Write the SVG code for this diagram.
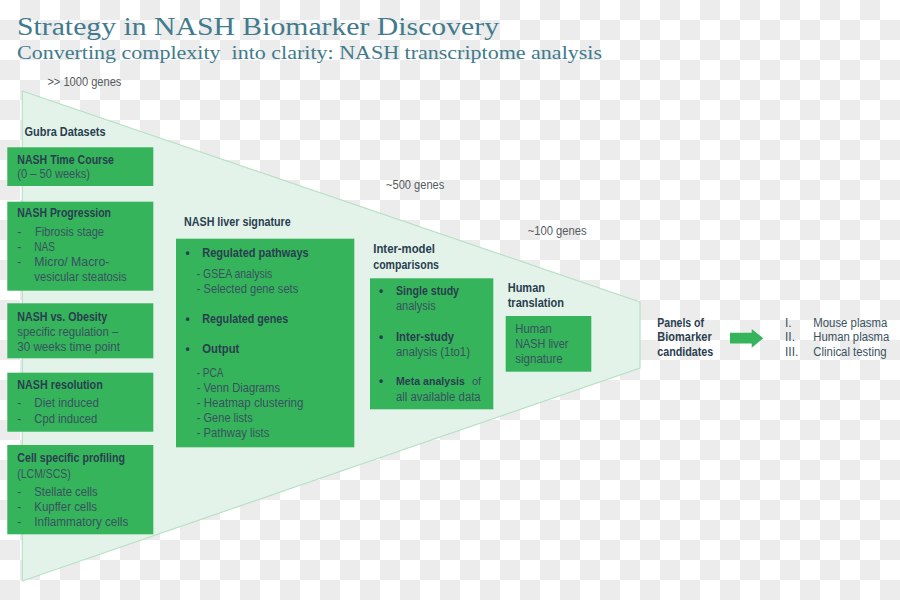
<svg xmlns="http://www.w3.org/2000/svg" width="900" height="600" viewBox="0 0 900 600">
<defs>
<pattern id="checker" width="40" height="40" patternUnits="userSpaceOnUse">
<rect width="40" height="40" fill="#ffffff"/>
<rect x="20" y="0" width="20" height="20" fill="#ececec"/>
<rect x="0" y="20" width="20" height="20" fill="#ececec"/>
</pattern>
</defs>
<style>
.box{fill:#35b45b}
.t{font-family:"Liberation Sans",Arial,sans-serif;font-size:12px}
.b{font-weight:bold;fill:#2a3e4f}
.r{fill:#38525f}
.g{fill:#555b60}
.title{font-family:"Liberation Serif","Times New Roman",serif;fill:#3f7b8d}
</style>
<rect width="900" height="600" fill="url(#checker)"/>
<polygon points="22.3,91 640,302 640,368 22.3,581" fill="#e3f3e9" stroke="#b8e0c7" stroke-width="1.2"/>

<g id="title">
<text class="title" x="17" y="35" font-size="25.5" textLength="482" lengthAdjust="spacingAndGlyphs">Strategy in NASH Biomarker Discovery</text>
<text class="title" x="17" y="58.5" font-size="19" textLength="585" lengthAdjust="spacingAndGlyphs" xml:space="preserve">Converting complexity  into clarity: NASH transcriptome analysis</text>
</g>

<g id="gene-counts" class="t g">
<text x="47.4" y="85.5" textLength="74" lengthAdjust="spacingAndGlyphs">&gt;&gt; 1000 genes</text>
<text x="386" y="189" textLength="58.3" lengthAdjust="spacingAndGlyphs">~500 genes</text>
<text x="527.7" y="234.5" textLength="59" lengthAdjust="spacingAndGlyphs">~100 genes</text>
</g>

<g id="gubra-datasets">
<text class="t b" x="24.5" y="135.8" textLength="81" lengthAdjust="spacingAndGlyphs">Gubra Datasets</text>
</g>

<g id="nash-time-course">
<rect class="box" x="7.3" y="147.3" width="146" height="38.7"/>
<text class="t b" x="17.3" y="164" textLength="96.7" lengthAdjust="spacingAndGlyphs">NASH Time Course</text>
<text class="t r" x="17.3" y="178" textLength="72.7" lengthAdjust="spacingAndGlyphs">(0 – 50 weeks)</text>
</g>

<g id="nash-progression">
<rect class="box" x="7.3" y="201.7" width="146" height="89"/>
<text class="t b" x="17.3" y="217" textLength="93.7" lengthAdjust="spacingAndGlyphs">NASH Progression</text>
<text class="t r" x="17.3" y="236">-</text>
<text class="t r" x="35" y="236" textLength="69" lengthAdjust="spacingAndGlyphs">Fibrosis stage</text>
<text class="t r" x="17.3" y="251">-</text>
<text class="t r" x="34.3" y="251" textLength="20.7" lengthAdjust="spacingAndGlyphs">NAS</text>
<text class="t r" x="17.3" y="266">-</text>
<text class="t r" x="34.3" y="266" textLength="75" lengthAdjust="spacingAndGlyphs">Micro/ Macro-</text>
<text class="t r" x="34.3" y="281" textLength="92.4" lengthAdjust="spacingAndGlyphs">vesicular steatosis</text>
</g>

<g id="nash-vs-obesity">
<rect class="box" x="7.3" y="303.3" width="146" height="55"/>
<text class="t b" x="17.3" y="320.5" textLength="90" lengthAdjust="spacingAndGlyphs">NASH vs. Obesity</text>
<text class="t r" x="17.3" y="335.5" textLength="101" lengthAdjust="spacingAndGlyphs">specific regulation –</text>
<text class="t r" x="17.3" y="350.5" textLength="102.7" lengthAdjust="spacingAndGlyphs">30 weeks time point</text>
</g>

<g id="nash-resolution">
<rect class="box" x="7.3" y="372.7" width="146" height="59"/>
<text class="t b" x="17.3" y="389" textLength="85.4" lengthAdjust="spacingAndGlyphs">NASH resolution</text>
<text class="t r" x="17.3" y="407">-</text>
<text class="t r" x="34.3" y="407" textLength="64.7" lengthAdjust="spacingAndGlyphs">Diet induced</text>
<text class="t r" x="17.3" y="423">-</text>
<text class="t r" x="34.3" y="423" textLength="63" lengthAdjust="spacingAndGlyphs">Cpd induced</text>
</g>

<g id="cell-specific-profiling">
<rect class="box" x="7.3" y="445" width="146" height="89.3"/>
<text class="t b" x="17.3" y="462" textLength="107.7" lengthAdjust="spacingAndGlyphs">Cell specific profiling</text>
<text class="t r" x="17.3" y="478" textLength="53.4" lengthAdjust="spacingAndGlyphs">(LCM/SCS)</text>
<text class="t r" x="17.3" y="496">-</text>
<text class="t r" x="34.3" y="496" textLength="63.4" lengthAdjust="spacingAndGlyphs">Stellate cells</text>
<text class="t r" x="17.3" y="511">-</text>
<text class="t r" x="34.3" y="511" textLength="62.7" lengthAdjust="spacingAndGlyphs">Kupffer cells</text>
<text class="t r" x="17.3" y="526">-</text>
<text class="t r" x="34.3" y="526" textLength="94" lengthAdjust="spacingAndGlyphs">Inflammatory cells</text>
</g>

<g id="nash-liver-signature">
<text class="t b" x="184" y="226" textLength="106.7" lengthAdjust="spacingAndGlyphs">NASH liver signature</text>
<rect class="box" x="176" y="238.7" width="178.3" height="208.6"/>
<text class="t b" x="185.5" y="256.5">•</text>
<text class="t b" x="202.3" y="256.5" textLength="106.4" lengthAdjust="spacingAndGlyphs">Regulated pathways</text>
<text class="t r" x="196.7" y="278" textLength="75.6" lengthAdjust="spacingAndGlyphs">- GSEA analysis</text>
<text class="t r" x="196.7" y="293" textLength="101.6" lengthAdjust="spacingAndGlyphs">- Selected gene sets</text>
<text class="t b" x="185.5" y="323">•</text>
<text class="t b" x="202.3" y="323" textLength="86" lengthAdjust="spacingAndGlyphs">Regulated genes</text>
<text class="t b" x="185.5" y="353">•</text>
<text class="t b" x="202.3" y="353" textLength="37" lengthAdjust="spacingAndGlyphs">Output</text>
<text class="t r" x="196.7" y="376.5" textLength="26.7" lengthAdjust="spacingAndGlyphs">- PCA</text>
<text class="t r" x="196.7" y="391.5" textLength="83.3" lengthAdjust="spacingAndGlyphs">- Venn Diagrams</text>
<text class="t r" x="196.7" y="406.5" textLength="106.7" lengthAdjust="spacingAndGlyphs">- Heatmap clustering</text>
<text class="t r" x="196.7" y="422" textLength="56" lengthAdjust="spacingAndGlyphs">- Gene lists</text>
<text class="t r" x="196.7" y="436.5" textLength="72.7" lengthAdjust="spacingAndGlyphs">- Pathway lists</text>
</g>

<g id="inter-model-comparisons">
<text class="t b" x="373.3" y="253" textLength="61.7" lengthAdjust="spacingAndGlyphs">Inter-model</text>
<text class="t b" x="373.3" y="268.5" textLength="65.7" lengthAdjust="spacingAndGlyphs">comparisons</text>
<rect class="box" x="370" y="278.3" width="123.3" height="131"/>
<text class="t b" x="379" y="294.5">•</text>
<text class="t b" x="396" y="294.5" textLength="63" lengthAdjust="spacingAndGlyphs">Single study</text>
<text class="t r" x="396" y="310" textLength="39.7" lengthAdjust="spacingAndGlyphs">analysis</text>
<text class="t b" x="379" y="340.5">•</text>
<text class="t b" x="396" y="340.5" textLength="58" lengthAdjust="spacingAndGlyphs">Inter-study</text>
<text class="t r" x="396" y="355.5" textLength="74" lengthAdjust="spacingAndGlyphs">analysis (1to1)</text>
<text class="t b" x="379" y="385">•</text>
<text class="t b" x="396" y="385" style="font-size:10.6px">Meta analysis</text>
<text class="t r" x="472" y="385" style="font-size:11px">of</text>
<text class="t r" x="396" y="400.5" textLength="84.7" lengthAdjust="spacingAndGlyphs">all available data</text>
</g>

<g id="human-translation">
<text class="t b" x="507.7" y="291.5" textLength="37.3" lengthAdjust="spacingAndGlyphs">Human</text>
<text class="t b" x="507.7" y="306.5" textLength="56.3" lengthAdjust="spacingAndGlyphs">translation</text>
<rect class="box" x="505.7" y="316" width="85.6" height="55.7"/>
<text class="t r" x="515.3" y="332.5" textLength="36.4" lengthAdjust="spacingAndGlyphs">Human</text>
<text class="t r" x="515.3" y="347.8" textLength="53" lengthAdjust="spacingAndGlyphs">NASH liver</text>
<text class="t r" x="515.3" y="363" textLength="47.4" lengthAdjust="spacingAndGlyphs">signature</text>
</g>

<g id="biomarker-panels">
<text class="t b" x="657.3" y="326.5" textLength="46.7" lengthAdjust="spacingAndGlyphs">Panels of</text>
<text class="t b" x="657.3" y="340.5" textLength="54.4" lengthAdjust="spacingAndGlyphs">Biomarker</text>
<text class="t b" x="657.3" y="355.5" textLength="56" lengthAdjust="spacingAndGlyphs">candidates</text>
</g>

<g id="connectors">
<polygon points="730,332.7 751.7,332.7 751.7,329 763.3,338.3 751.7,347.7 751.7,343.6 730,343.6" fill="#35b45b"/>
</g>

<g id="applications" class="t r">
<text x="785" y="326.5">I.</text>
<text x="785" y="341">II.</text>
<text x="785" y="356">III.</text>
<text x="813.3" y="326.5" textLength="74" lengthAdjust="spacingAndGlyphs">Mouse plasma</text>
<text x="813.3" y="341" textLength="76" lengthAdjust="spacingAndGlyphs">Human plasma</text>
<text x="813.3" y="356" textLength="73.3" lengthAdjust="spacingAndGlyphs">Clinical testing</text>
</g>
</svg>
